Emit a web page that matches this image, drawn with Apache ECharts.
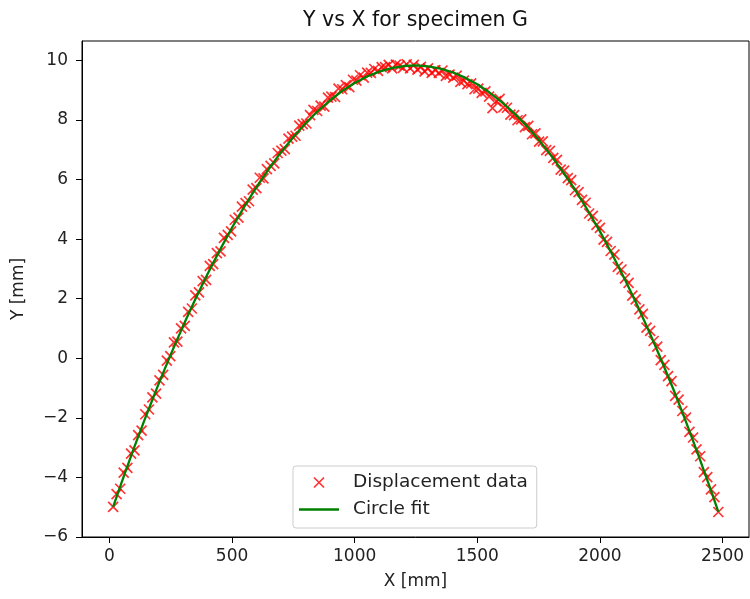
<!DOCTYPE html>
<html lang="en">
<head>
<meta charset="UTF-8">
<title>Y vs X for specimen G</title>
<script src="https://cdn.jsdelivr.net/npm/echarts@6/dist/echarts.min.js"></script>
<style>
  html, body { margin: 0; padding: 0; background: #fff; }
  #main { width: 750px; height: 599px; }
</style>
</head>
<body>
<div id="main"></div>
<script type="text/javascript">
// measured points (x in mm, y in mm)
var scatterX = [15, 29, 44, 58, 73, 88, 102, 117, 131, 146, 161, 175, 190, 204, 219, 234, 248, 263, 277, 292,
    307, 321, 336, 350, 365, 380, 394, 409, 423, 438, 453, 467, 482, 496, 511, 526, 540, 555, 569, 584,
    599, 613, 628, 642, 657, 672, 686, 701, 715, 730, 745, 759, 774, 788, 803, 818, 832, 847, 861, 876,
    891, 905, 920, 934, 949, 964, 978, 993, 1007, 1022, 1037, 1051, 1066, 1080, 1095, 1110, 1124, 1139, 1153, 1168,
    1183, 1197, 1212, 1226, 1241, 1256, 1270, 1285, 1299, 1314, 1329, 1343, 1358, 1372, 1387, 1402, 1416, 1431, 1445, 1460,
    1475, 1489, 1504, 1518, 1533, 1548, 1562, 1577, 1591, 1606, 1621, 1635, 1650, 1664, 1679, 1694, 1708, 1723, 1737, 1752,
    1767, 1781, 1796, 1810, 1825, 1840, 1854, 1869, 1883, 1898, 1913, 1927, 1942, 1956, 1971, 1986, 2000, 2015, 2029, 2044,
    2059, 2073, 2088, 2102, 2117, 2132, 2146, 2161, 2175, 2190, 2205, 2219, 2234, 2248, 2263, 2278, 2292, 2307, 2321, 2336,
    2351, 2365, 2380, 2394, 2409, 2424, 2438, 2453, 2467, 2483];
var scatterY = [-4.99, -4.56, -4.38, -3.84, -3.68, -3.20, -3.09, -2.58, -2.43, -1.88, -1.72, -1.31, -1.19, -0.74, -0.56, -0.08, 0.07, 0.53, 0.56, 1.00,
    1.09, 1.56, 1.67, 2.11, 2.21, 2.59, 2.63, 3.10, 3.16, 3.53, 3.59, 4.04, 4.14, 4.26, 4.65, 4.72, 5.09, 5.21, 5.27, 5.66,
    5.71, 6.06, 6.04, 6.35, 6.46, 6.54, 6.89, 6.97, 7.02, 7.37, 7.44, 7.47, 7.81, 7.86, 7.88, 8.16, 8.34, 8.30, 8.48, 8.45,
    8.75, 8.78, 8.77, 9.05, 9.03, 9.17, 9.10, 9.35, 9.32, 9.50, 9.42, 9.59, 9.58, 9.71, 9.65, 9.77, 9.77, 9.85, 9.73, 9.86,
    9.82, 9.75, 9.87, 9.73, 9.85, 9.69, 9.78, 9.63, 9.73, 9.58, 9.67, 9.58, 9.66, 9.48, 9.52, 9.42, 9.49, 9.28, 9.32, 9.20,
    9.23, 9.03, 9.05, 8.91, 8.96, 8.78, 8.40, 8.63, 8.71, 8.42, 8.41, 8.18, 8.16, 7.99, 8.02, 7.76, 7.80, 7.52, 7.55, 7.27,
    7.28, 6.99, 6.96, 6.73, 6.66, 6.33, 6.30, 6.05, 5.98, 5.64, 5.58, 5.32, 5.22, 4.86, 4.78, 4.48, 4.38, 3.98, 3.91, 3.60,
    3.48, 3.07, 2.98, 2.68, 2.53, 2.10, 1.98, 1.64, 1.49, 1.03, 0.92, 0.58, 0.39, -0.06, -0.22, -0.60, -0.77, -1.26, -1.39, -1.77,
    -1.99, -2.47, -2.66, -3.06, -3.29, -3.82, -3.99, -4.40, -4.66, -5.16];

// fitted circle
var fitX = [15, 50, 100, 150, 200, 250, 300, 350, 400, 450, 500, 550, 600, 650, 700, 750, 800, 850, 900, 950,
    1000, 1050, 1100, 1150, 1200, 1250, 1300, 1350, 1400, 1450, 1500, 1550, 1600, 1650, 1700, 1750, 1800, 1850, 1900, 1950,
    2000, 2050, 2100, 2150, 2200, 2250, 2300, 2350, 2400, 2450, 2483];
var fitY = [-4.99, -4.16, -3.01, -1.92, -0.87, 0.13, 1.08, 1.98, 2.83, 3.63, 4.39, 5.09, 5.75, 6.36, 6.92, 7.43, 7.89, 8.30, 8.66, 8.98,
    9.24, 9.46, 9.62, 9.74, 9.81, 9.83, 9.80, 9.72, 9.60, 9.42, 9.20, 8.92, 8.60, 8.23, 7.81, 7.34, 6.82, 6.25, 5.64, 4.97,
    4.26, 3.49, 2.68, 1.82, 0.91, -0.05, -1.05, -2.11, -3.22, -4.37, -5.16];

var xTicks = [0, 500, 1000, 1500, 2000, 2500];
var yTicks = [-6, -4, -2, 0, 2, 4, 6, 8, 10];

var font = 'DejaVu Sans';
var crossIcon = 'path://M0,0L10,10M10,0L0,10';
var barIcon = 'path://M0,0L40,0L40,2.3L0,2.3Z';

function pairs(xs, ys) {
    var out = [];
    for (var i = 0; i < xs.length; i++) {
        out.push([xs[i], ys[i]]);
    }
    return out;
}

// plain numbers with a real minus sign, no thousands separator
function tickText(v) {
    return String(v).replace('-', '\u2212');
}

var myChart = echarts.init(document.getElementById('main'), null, {renderer: 'canvas'});

var labelStyle = {color: '#222', fontSize: 17, fontFamily: font};

var option = {
    animation: false,
    backgroundColor: '#fff',
    textStyle: {fontFamily: font},
    graphic: [{
        type: 'text',
        x: 415.5,
        y: 21,
        style: {
            text: 'Y vs X for specimen G',
            font: '20.5px "DejaVu Sans"',
            fill: '#111',
            align: 'center',
            verticalAlign: 'middle',
            textAlign: 'center',
            textVerticalAlign: 'middle'
        }
    }],
    grid: {
        left: 82, right: 1, top: 41, bottom: 62,
        show: true, borderColor: '#000', borderWidth: 1
    },
    legend: {
        orient: 'vertical',
        left: 293, top: 466,
        itemWidth: 40, itemHeight: 10, itemGap: 8,
        padding: [7, 9, 9, 6],
        borderColor: '#ccc', borderWidth: 1, borderRadius: 3,
        backgroundColor: 'rgba(255,255,255,0.8)',
        textStyle: {fontSize: 18.5, color: '#222', fontFamily: font, padding: [0, 0, 0, 9]},
        data: [
            {name: 'Displacement data', icon: crossIcon,
             itemStyle: {color: 'rgba(0,0,0,0)', borderColor: '#ff0000', borderWidth: 1.7}},
            {name: 'Circle fit', icon: barIcon,
             itemStyle: {color: '#008000', borderWidth: 0}}
        ]
    },
    xAxis: {
        type: 'value', min: -112, max: 2608,
        splitLine: {show: false},
        axisLine: {onZero: false, lineStyle: {color: '#000', width: 1}},
        axisTick: {length: 6, lineStyle: {color: '#000'}, customValues: xTicks},
        axisLabel: Object.assign({margin: 11, customValues: xTicks, formatter: tickText}, labelStyle),
        name: 'X [mm]', nameLocation: 'middle', nameGap: 36,
        nameTextStyle: labelStyle
    },
    yAxis: {
        type: 'value', min: -6, max: 10.65,
        splitLine: {show: false},
        axisLine: {onZero: false, lineStyle: {color: '#000', width: 1}},
        axisTick: {length: 6, lineStyle: {color: '#000'}, customValues: yTicks},
        axisLabel: Object.assign({margin: 14, customValues: yTicks, formatter: tickText}, labelStyle),
        name: 'Y [mm]', nameLocation: 'middle', nameGap: 55,
        nameTextStyle: labelStyle
    },
    series: [
        {
            name: 'Displacement data',
            type: 'scatter',
            data: pairs(scatterX, scatterY),
            symbol: crossIcon,
            symbolSize: 10,
            itemStyle: {color: 'rgba(0,0,0,0)', borderColor: '#ff0000', borderWidth: 1.7},
            z: 2
        },
        {
            name: 'Circle fit',
            type: 'line',
            data: pairs(fitX, fitY),
            symbol: 'none',
            showSymbol: false,
            lineStyle: {color: '#008000', width: 2.3},
            itemStyle: {color: '#008000'},
            z: 3
        }
    ]
};

myChart.setOption(option);
</script>
</body>
</html>
